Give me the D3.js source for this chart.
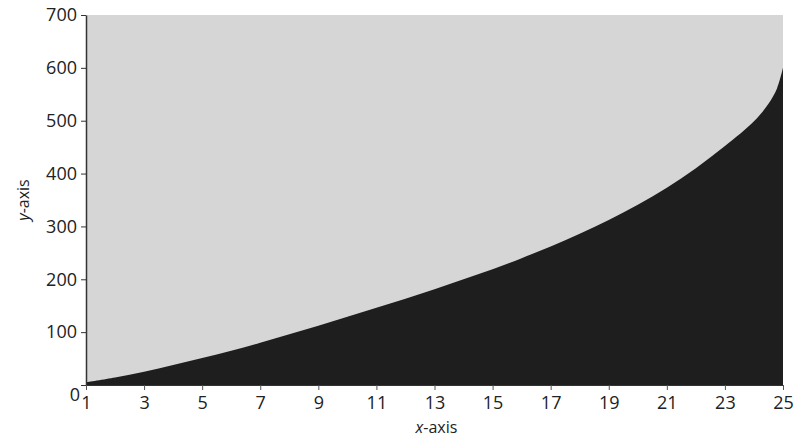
<!DOCTYPE html>
<html>
<head>
<meta charset="utf-8">
<script src="https://cdn.jsdelivr.net/npm/d3@7"></script>
<style>
  body { margin: 0; background: #fff; }
  svg { display: block; }
  text { font-family: "Open Sans", "Noto Sans", sans-serif; fill: #222; }
</style>
</head>
<body>
<svg id="chart" width="797" height="438"></svg>
<script>
const xValues = [1,2,3,4,5,6,7,8,9,10,11,12,13,14,15,16,17,18,19,20,21,22,23,24,24.5,24.8,25];
const yValues = [5,14,25,38,51,65,80,96,112,129,146,163,181,200,219,240,262,286,312,341,373,410,452,499,532,562,600];
const xTicks = [1,3,5,7,9,11,13,15,17,19,21,23,25];
const yTicks = [0,100,200,300,400,500,600,700];

const margin = {left: 86, right: 14, top: 15, bottom: 53};
const W = 797, H = 438;
const svg = d3.select("#chart");

const x = d3.scaleLinear().domain([1, 25]).range([margin.left, W - margin.right]);
const y = d3.scaleLinear().domain([0, 700]).range([H - margin.bottom, margin.top]);

// background panel
svg.append("rect")
  .attr("x", x(1)).attr("y", y(700))
  .attr("width", x(25) - x(1)).attr("height", y(0) - y(700))
  .attr("fill", "#d6d6d6");

const data = xValues.map((d, i) => ({x: d, y: yValues[i]}));
const area = d3.area()
  .x(d => x(d.x))
  .y0(y(0))
  .y1(d => y(d.y))
  .curve(d3.curveCatmullRom.alpha(0.5));

svg.append("path").datum(data).attr("d", area).attr("fill", "#1e1e1e");

// y axis
const yAxis = svg.append("g")
  .attr("transform", `translate(${x(1)},0)`)
  .call(d3.axisLeft(y).tickValues(yTicks).tickSize(5).tickSizeOuter(0).tickPadding(4));
yAxis.select(".domain").attr("stroke", "#333").attr("stroke-width", 1.5);
yAxis.selectAll(".tick line").attr("stroke", "#333");
yAxis.selectAll(".tick text")
  .style("font-size", "18px")
  .attr("font-family", "Open Sans, Noto Sans, sans-serif")
  .attr("fill", "#1a1a1a");
yAxis.selectAll(".tick").filter(d => d === 0).select("text").attr("dy", "0.85em").attr("x", -6);

// x axis
const xAxis = svg.append("g")
  .attr("transform", `translate(0,${y(0)})`)
  .call(d3.axisBottom(x).tickValues(xTicks).tickSize(5).tickSizeOuter(0).tickPadding(6));
xAxis.select(".domain").attr("stroke", "#333").attr("stroke-width", 1);
xAxis.selectAll(".tick line").attr("stroke", "#555");
xAxis.selectAll(".tick text")
  .style("font-size", "18px")
  .attr("font-family", "Open Sans, Noto Sans, sans-serif")
  .attr("fill", "#1a1a1a");

// axis titles
const xt = svg.append("text")
  .attr("x", (x(1) + x(25)) / 2 + 2).attr("y", 433)
  .attr("text-anchor", "middle").style("font-size", "16px");
xt.append("tspan").style("font-style", "italic").text("x");
xt.append("tspan").text("-axis");

const yt = svg.append("text")
  .attr("transform", `translate(29,${(y(0) + y(700)) / 2}) rotate(-90)`)
  .attr("text-anchor", "middle").style("font-size", "16px");
yt.append("tspan").style("font-style", "italic").text("y");
yt.append("tspan").text("-axis");
</script>
</body>
</html>
